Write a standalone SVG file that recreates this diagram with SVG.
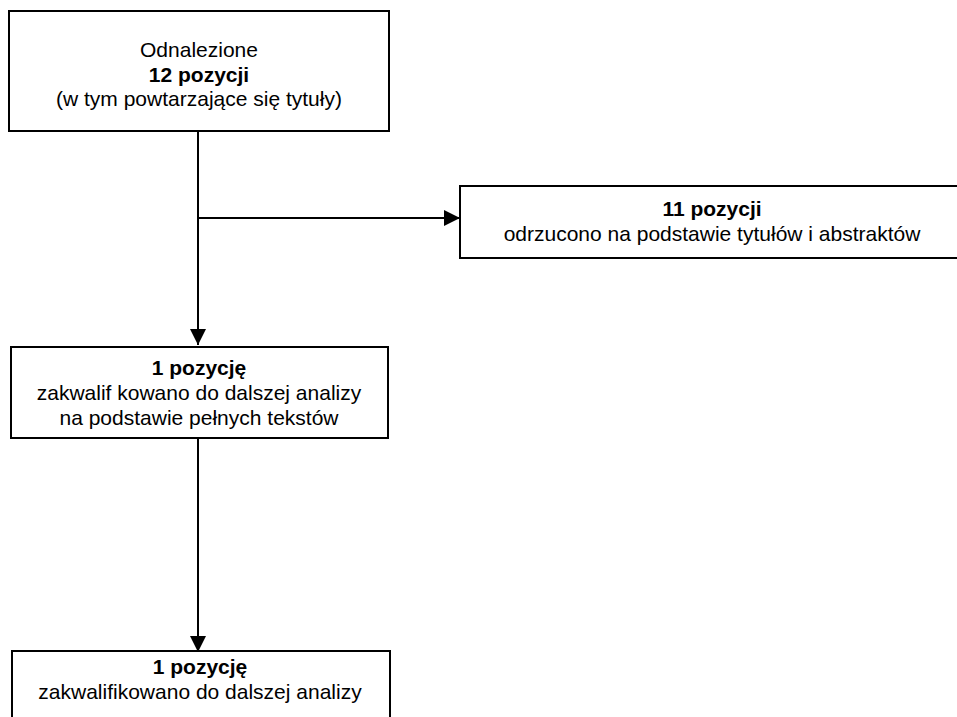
<svg xmlns="http://www.w3.org/2000/svg" width="957" height="717" viewBox="0 0 957 717">
<style>
.box{fill:#fff;stroke:#000;stroke-width:2}
.t{font-family:"Liberation Sans",Arial,sans-serif;font-size:21px;fill:#000;text-anchor:middle}
.b{font-weight:bold}
.c{stroke:#000;stroke-width:2;fill:none}
</style>
<defs>
<marker id="ah" markerUnits="userSpaceOnUse" markerWidth="16" markerHeight="16" viewBox="0 0 16 16" refX="16" refY="8" orient="auto">
<path d="M0,0 L16,8 L0,16 Z" fill="#000"/>
</marker>
</defs>
<rect width="957" height="717" fill="#fff"/>
<g id="connectors">
<line class="c" x1="198" y1="131" x2="198" y2="345" marker-end="url(#ah)"/>
<line class="c" x1="198" y1="218" x2="460" y2="218" marker-end="url(#ah)"/>
<line class="c" x1="198" y1="438" x2="198" y2="652" marker-end="url(#ah)"/>
</g>
<g id="n1">
<rect class="box" x="9" y="11" width="380" height="120"/>
<text class="t" x="199" y="57">Odnalezione</text>
<text class="t b" x="199" y="82">12 pozycji</text>
<text class="t" x="199" y="106">(w tym powtarzające się tytuły)</text>
</g>
<g id="n2">
<rect class="box" x="460" y="186" width="510" height="72"/>
<text class="t b" x="712" y="216">11 pozycji</text>
<text class="t" x="712" y="241">odrzucono na podstawie tytułów i abstraktów</text>
</g>
<g id="n3">
<rect class="box" x="11" y="347" width="377" height="91"/>
<text class="t b" x="199" y="375">1 pozycję</text>
<text class="t" x="199" y="400">zakwalif kowano do dalszej analizy</text>
<text class="t" x="199" y="425">na podstawie pełnych tekstów</text>
</g>
<g id="n4">
<rect class="box" x="12" y="651" width="378" height="90"/>
<text class="t b" x="200" y="674">1 pozycję</text>
<text class="t" x="200" y="699">zakwalifikowano do dalszej analizy</text>
</g>
</svg>
